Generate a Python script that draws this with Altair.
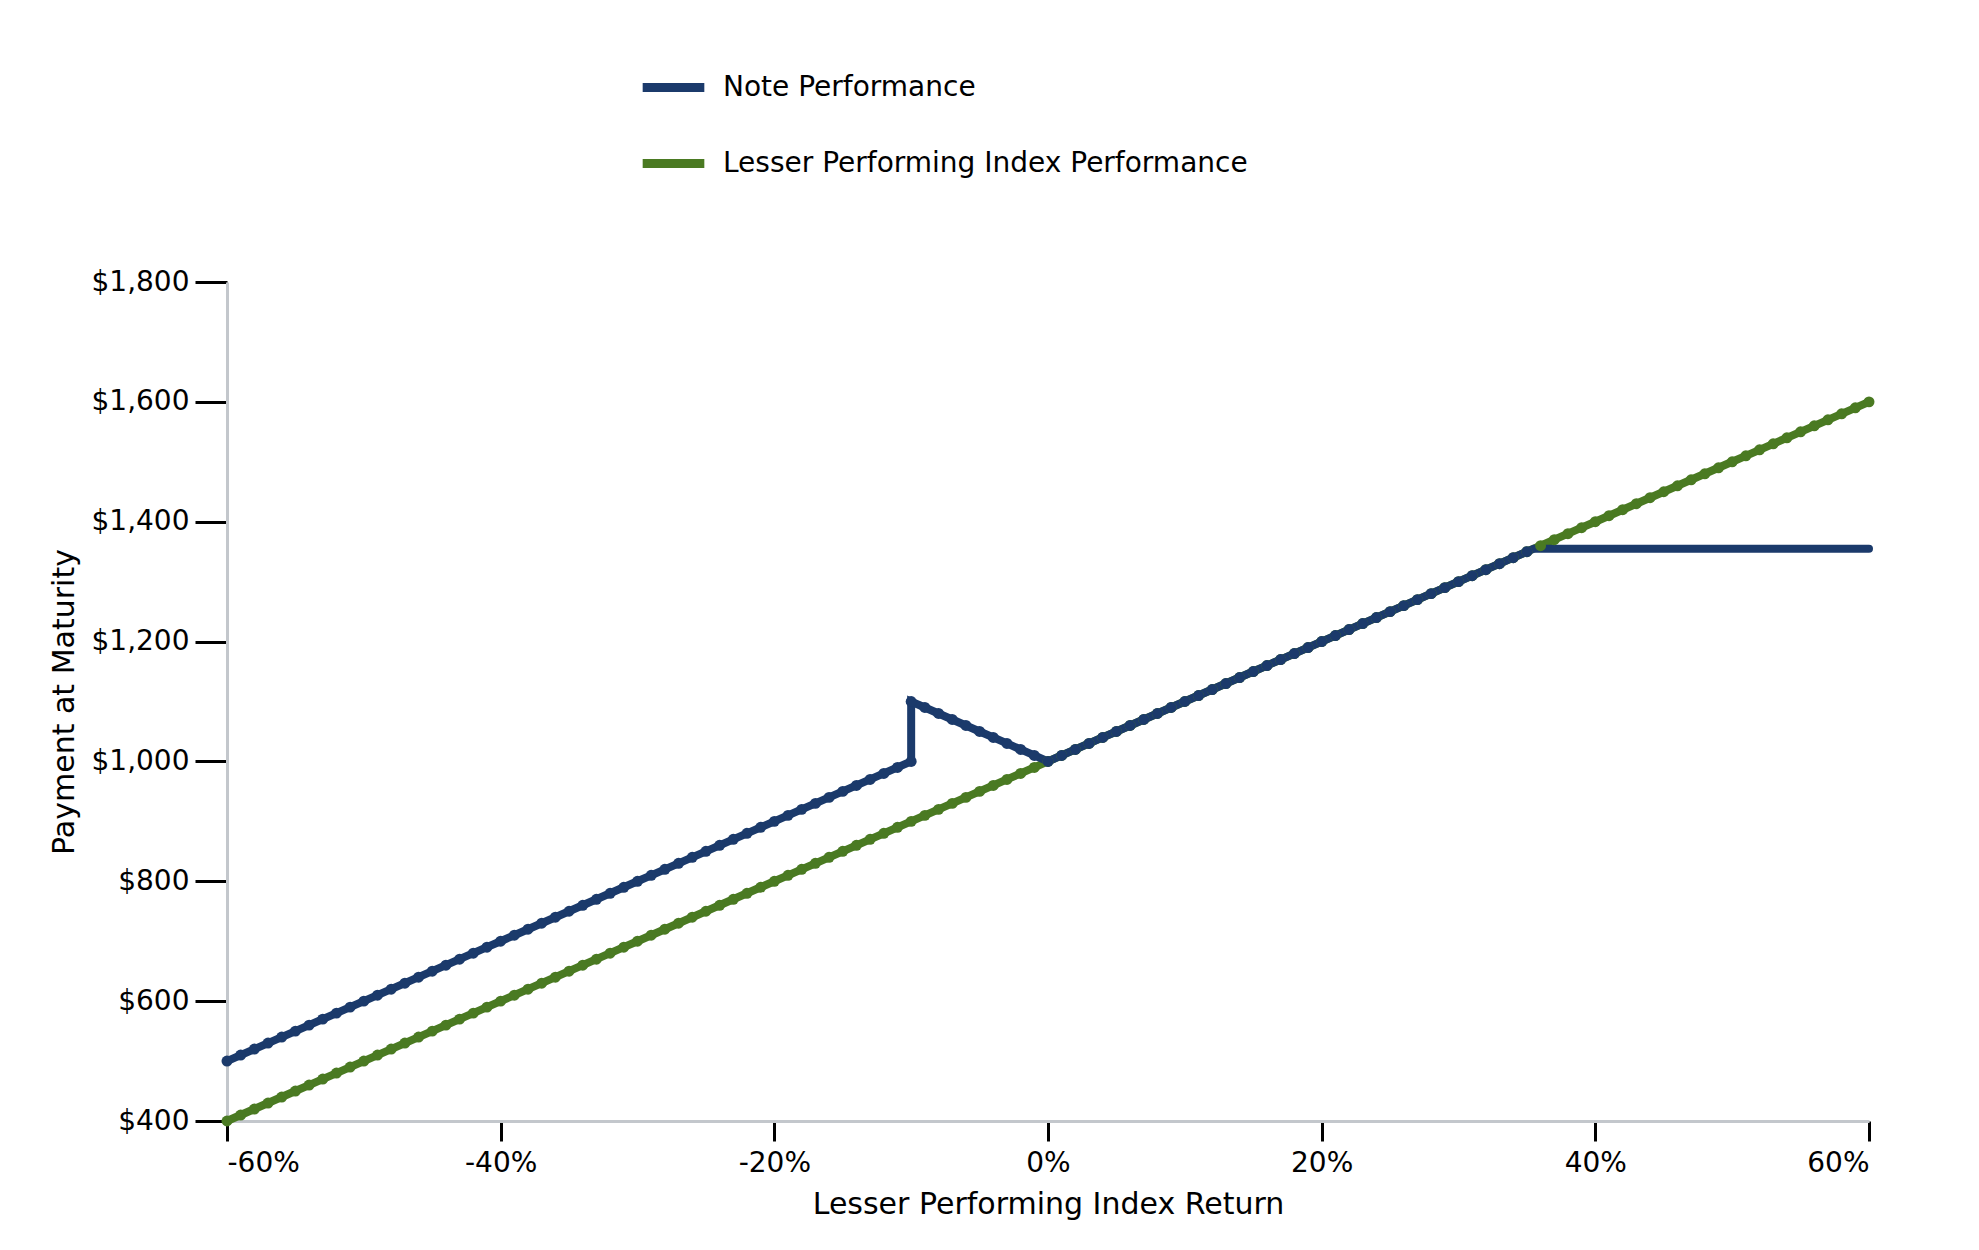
import altair as alt
import pandas as pd

# index return (%) and payments
index_return = [
    -60, -59, -58, -57, -56, -55, -54, -53, -52, -51, -50, -49, -48, -47, -46, -45, -44, -43, -42, -41,
    -40, -39, -38, -37, -36, -35, -34, -33, -32, -31, -30, -29, -28, -27, -26, -25, -24, -23, -22, -21,
    -20, -19, -18, -17, -16, -15, -14, -13, -12, -11, -10, -9, -8, -7, -6, -5, -4, -3, -2, -1,
    0, 1, 2, 3, 4, 5, 6, 7, 8, 9, 10, 11, 12, 13, 14, 15, 16, 17, 18, 19,
    20, 21, 22, 23, 24, 25, 26, 27, 28, 29, 30, 31, 32, 33, 34, 35, 36, 37, 38, 39,
    40, 41, 42, 43, 44, 45, 46, 47, 48, 49, 50, 51, 52, 53, 54, 55, 56, 57, 58, 59, 60,
]
index_payment = [
    400, 410, 420, 430, 440, 450, 460, 470, 480, 490, 500, 510, 520, 530, 540, 550, 560, 570, 580, 590,
    600, 610, 620, 630, 640, 650, 660, 670, 680, 690, 700, 710, 720, 730, 740, 750, 760, 770, 780, 790,
    800, 810, 820, 830, 840, 850, 860, 870, 880, 890, 900, 910, 920, 930, 940, 950, 960, 970, 980, 990,
    1000, 1010, 1020, 1030, 1040, 1050, 1060, 1070, 1080, 1090, 1100, 1110, 1120, 1130, 1140, 1150, 1160, 1170, 1180, 1190,
    1200, 1210, 1220, 1230, 1240, 1250, 1260, 1270, 1280, 1290, 1300, 1310, 1320, 1330, 1340, 1350, 1360, 1370, 1380, 1390,
    1400, 1410, 1420, 1430, 1440, 1450, 1460, 1470, 1480, 1490, 1500, 1510, 1520, 1530, 1540, 1550, 1560, 1570, 1580, 1590, 1600,
]

note_return = [
    -60, -59, -58, -57, -56, -55, -54, -53, -52, -51, -50, -49, -48, -47, -46, -45, -44, -43, -42, -41,
    -40, -39, -38, -37, -36, -35, -34, -33, -32, -31, -30, -29, -28, -27, -26, -25, -24, -23, -22, -21,
    -20, -19, -18, -17, -16, -15, -14, -13, -12, -11, -10, -10, -9, -8, -7, -6, -5, -4, -3, -2, -1,
    0, 1, 2, 3, 4, 5, 6, 7, 8, 9, 10, 11, 12, 13, 14, 15, 16, 17, 18, 19,
    20, 21, 22, 23, 24, 25, 26, 27, 28, 29, 30, 31, 32, 33, 34, 35, 35.5, 60,
]
note_payment = [
    500, 510, 520, 530, 540, 550, 560, 570, 580, 590, 600, 610, 620, 630, 640, 650, 660, 670, 680, 690,
    700, 710, 720, 730, 740, 750, 760, 770, 780, 790, 800, 810, 820, 830, 840, 850, 860, 870, 880, 890,
    900, 910, 920, 930, 940, 950, 960, 970, 980, 990, 1000, 1100, 1090, 1080, 1070, 1060, 1050, 1040, 1030, 1020, 1010,
    1000, 1010, 1020, 1030, 1040, 1050, 1060, 1070, 1080, 1090, 1100, 1110, 1120, 1130, 1140, 1150, 1160, 1170, 1180, 1190,
    1200, 1210, 1220, 1230, 1240, 1250, 1260, 1270, 1280, 1290, 1300, 1310, 1320, 1330, 1340, 1350, 1355, 1355,
]
# the capped flat segment is drawn without markers
note_marker = [True] * (len(note_return) - 2) + [False, False]

series = ["Note Performance", "Lesser Performing Index Performance"]
colors = ["#1b3a6b", "#4a7a22"]

note = pd.DataFrame({"ret": note_return, "pay": note_payment, "series": series[0], "marker": note_marker})
index = pd.DataFrame({"ret": index_return, "pay": index_payment, "series": series[1], "marker": True})
note["order"] = range(len(note))
index["order"] = range(len(index))
data = pd.concat([index, note], ignore_index=True)

x = alt.X(
    "ret:Q",
    scale=alt.Scale(domain=[-60, 60], nice=False),
    axis=alt.Axis(
        title="Lesser Performing Index Return",
        values=[-60, -40, -20, 0, 20, 40, 60],
        labelExpr="datum.value + '%'",
        tickSize=20,
        tickColor="black",
        tickWidth=3,
        labelPadding=8,
        titlePadding=12,
        grid=False,
    ),
)
y = alt.Y(
    "pay:Q",
    scale=alt.Scale(domain=[400, 1800], nice=False),
    axis=alt.Axis(
        title="Payment at Maturity",
        values=[400, 600, 800, 1000, 1200, 1400, 1600, 1800],
        format="$,.0f",
        tickSize=32,
        tickColor="black",
        tickWidth=3,
        labelPadding=6,
        titlePadding=12,
        grid=False,
    ),
)
color = alt.Color(
    "series:N",
    scale=alt.Scale(domain=series, range=colors),
    legend=alt.Legend(
        title=None,
        orient="none",
        legendX=411,
        legendY=-230,
        symbolType="stroke",
        symbolStrokeWidth=9,
        symbolSize=3800,
        labelFontSize=28,
        labelLimit=1000,
        rowPadding=22,
        labelOffset=14,
    ),
)

base = alt.Chart(data)
lines = base.mark_line(strokeWidth=8, strokeCap="round").encode(
    x=x, y=y, color=color, detail="series:N", order="order:Q"
)
dots = base.transform_filter("datum.marker").mark_circle(size=120, opacity=1).encode(
    x=x, y=y, color=alt.Color("series:N", scale=alt.Scale(domain=series, range=colors), legend=None)
)

chart = (
    alt.layer(lines, dots)
    .properties(
        width=1642,
        height=839,
        autosize=alt.AutoSizeParams(type="none"),
        padding={"left": 219, "top": 274, "right": 100, "bottom": 110},
    )
    .configure(font="DejaVu Sans")
    .configure_axis(
        labelFontSize=28,
        titleFontSize=30,
        titleFontWeight="normal",
        labelColor="black",
        titleColor="black",
        domainColor="#c3c7cc",
        domainWidth=3,
    )
    .configure_view(strokeWidth=0)
)

chart.save("out.html", embed_options={"renderer": "svg", "actions": False})
